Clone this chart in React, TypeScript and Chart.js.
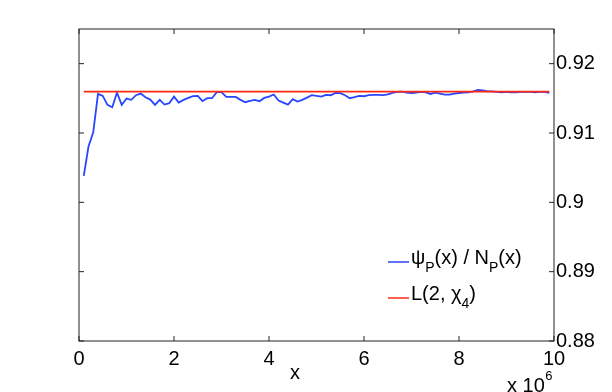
import React, { useEffect, useRef } from "react";
import { Chart, registerables } from "chart.js";

Chart.register(...registerables);

// x in units of 10^6
const X_MILLIONS = [
  0.1, 0.2, 0.3, 0.4, 0.5, 0.6, 0.7, 0.8, 0.9, 1.0,
  1.1, 1.2, 1.3, 1.4, 1.5, 1.6, 1.7, 1.8, 1.9, 2.0,
  2.1, 2.2, 2.3, 2.4, 2.5, 2.6, 2.7, 2.8, 2.9, 3.0,
  3.1, 3.2, 3.3, 3.4, 3.5, 3.6, 3.7, 3.8, 3.9, 4.0,
  4.1, 4.2, 4.3, 4.4, 4.5, 4.6, 4.7, 4.8, 4.9, 5.0,
  5.1, 5.2, 5.3, 5.4, 5.5, 5.6, 5.7, 5.8, 5.9, 6.0,
  6.1, 6.2, 6.3, 6.4, 6.5, 6.6, 6.7, 6.8, 6.9, 7.0,
  7.1, 7.2, 7.3, 7.4, 7.5, 7.6, 7.7, 7.8, 7.9, 8.0,
  8.1, 8.2, 8.3, 8.4, 8.5, 8.6, 8.7, 8.8, 8.9, 9.0,
  9.1, 9.2, 9.3, 9.4, 9.5, 9.6, 9.7, 9.8, 9.9,
];

// psi_P(x) / N_P(x)
const PSI_RATIO = [
  0.90381, 0.90804, 0.91011, 0.91564, 0.91535, 0.91405, 0.91372, 0.91583, 0.91405, 0.91497,
  0.91478, 0.91545, 0.91569, 0.91516, 0.91482, 0.91405, 0.91478, 0.91410, 0.91430, 0.91525,
  0.91439, 0.91478, 0.91506, 0.91531, 0.91535, 0.91459, 0.91502, 0.91502, 0.91589, 0.91589,
  0.91521, 0.91521, 0.91520, 0.91478, 0.91444, 0.91463, 0.91478, 0.91459, 0.91506, 0.91525,
  0.91555, 0.91468, 0.91439, 0.91410, 0.91487, 0.91453, 0.91478, 0.91511, 0.91545, 0.91535,
  0.91525, 0.91550, 0.91545, 0.91579, 0.91574, 0.91545, 0.91502, 0.91516, 0.91535, 0.91530,
  0.91545, 0.91550, 0.91550, 0.91545, 0.91556, 0.91577, 0.91592, 0.91596, 0.91582, 0.91577,
  0.91582, 0.91592, 0.91587, 0.91563, 0.91582, 0.91568, 0.91553, 0.91553, 0.91568, 0.91577,
  0.91582, 0.91587, 0.91601, 0.91620, 0.91616, 0.91601, 0.91601, 0.91592, 0.91587, 0.91592,
  0.91587, 0.91587, 0.91592, 0.91592, 0.91592, 0.91587, 0.91592, 0.91592, 0.91577,
];

// L(2, chi_4)
const L2_CHI4 = 0.915966;
const L_X_RANGE = [0.1, 9.9];

const X_TICKS = [0, 2, 4, 6, 8, 10];
const Y_TICKS = [0.88, 0.89, 0.9, 0.91, 0.92];
const X_MIN = 0;
const X_MAX = 10;
const Y_MIN = 0.88;
const Y_MAX = 0.925;

const X_TITLE = "x";
const X_EXP_BASE = "x 10";
const X_EXP = "6";

const BLUE = "#2846ff";
const RED = "#ff2a10";
const FONT = '"Liberation Sans", Arial, Helvetica, sans-serif';

type Part = { t: string; sub?: boolean };
const LEGEND_ITEMS: { color: string; parts: Part[] }[] = [
  {
    color: BLUE,
    parts: [
      { t: "ψ" },
      { t: "P", sub: true },
      { t: "(x) / N" },
      { t: "P", sub: true },
      { t: "(x)" },
    ],
  },
  {
    color: RED,
    parts: [{ t: "L(2, χ" }, { t: "4", sub: true }, { t: ")" }],
  },
];

const decorPlugin = {
  id: "decor",
  afterDatasetsDraw(chart: any) {
    const { ctx, chartArea, scales } = chart;
    const { left, right, top, bottom } = chartArea;
    const xs = scales.x;
    const ys = scales.y;
    ctx.save();
    // frame
    ctx.strokeStyle = "#222";
    ctx.lineWidth = 1;
    ctx.strokeRect(left, top, right - left, bottom - top);
    // inward ticks
    const tl = 5;
    ctx.beginPath();
    for (const v of X_TICKS) {
      const px = xs.getPixelForValue(v);
      ctx.moveTo(px, bottom);
      ctx.lineTo(px, bottom - tl);
      ctx.moveTo(px, top);
      ctx.lineTo(px, top + tl);
    }
    for (const v of Y_TICKS) {
      const py = ys.getPixelForValue(v);
      ctx.moveTo(left, py);
      ctx.lineTo(left + tl, py);
      ctx.moveTo(right, py);
      ctx.lineTo(right - tl, py);
    }
    ctx.stroke();

    // legend
    const legX = 388;
    const sampleLen = 21;
    const rowBase = [264, 300];
    LEGEND_ITEMS.forEach((item, i) => {
      const base = rowBase[i];
      ctx.strokeStyle = item.color;
      ctx.lineWidth = 1.5;
      ctx.beginPath();
      ctx.moveTo(legX, base - 2);
      ctx.lineTo(legX + sampleLen, base - 2);
      ctx.stroke();
      let cx = legX + sampleLen + 2;
      ctx.fillStyle = "#000";
      ctx.textAlign = "left";
      ctx.textBaseline = "alphabetic";
      for (const p of item.parts) {
        if (p.sub) {
          ctx.font = `14px ${FONT}`;
          ctx.fillText(p.t, cx, base + 7.5);
        } else {
          ctx.font = `20px ${FONT}`;
          ctx.fillText(p.t, cx, base);
        }
        cx += ctx.measureText(p.t).width;
      }
    });

    // x title
    ctx.fillStyle = "#000";
    ctx.font = `20px ${FONT}`;
    ctx.textAlign = "center";
    ctx.textBaseline = "alphabetic";
    ctx.fillText(X_TITLE, 295, 378.5);

    // exponent
    ctx.textAlign = "left";
    ctx.fillText(X_EXP_BASE, 507, 391.5);
    const w = ctx.measureText(X_EXP_BASE).width;
    ctx.font = `13px ${FONT}`;
    ctx.fillText(X_EXP, 507 + w + 0.5, 380);
    ctx.restore();
  },
};

export default function App() {
  const ref = useRef<HTMLCanvasElement | null>(null);
  useEffect(() => {
    if (!ref.current) return;
    const chart = new Chart(ref.current, {
      type: "line",
      data: {
        datasets: [
          {
            label: "psi",
            data: X_MILLIONS.map((x, i) => ({ x, y: PSI_RATIO[i] })),
            borderColor: BLUE,
            borderWidth: 1.8,
            pointRadius: 0,
            tension: 0,
            order: 1,
          },
          {
            label: "L",
            data: L_X_RANGE.map((x) => ({ x, y: L2_CHI4 })),
            borderColor: RED,
            borderWidth: 1.6,
            pointRadius: 0,
            order: 0,
          },
        ],
      },
      options: {
        animation: false,
        responsive: false,
        devicePixelRatio: 1,
        layout: { padding: { left: 79, top: 29, right: 0, bottom: 0 } },
        plugins: {
          legend: { display: false },
          tooltip: { enabled: false },
        },
        scales: {
          x: {
            type: "linear",
            position: "bottom",
            min: X_MIN,
            max: X_MAX,
            grid: { display: false, drawTicks: false },
            border: { display: false },
            afterBuildTicks: (s: any) => {
              s.ticks = X_TICKS.map((v) => ({ value: v }));
            },
            afterFit: (s: any) => {
              s.height = 51;
            },
            ticks: {
              color: "#000",
              padding: 6,
              maxRotation: 0,
              autoSkip: false,
              font: { family: FONT, size: 20 },
              callback: (v: any) => String(v),
            },
          },
          y: {
            type: "linear",
            position: "right",
            min: Y_MIN,
            max: Y_MAX,
            grid: { display: false, drawTicks: false },
            border: { display: false },
            afterBuildTicks: (s: any) => {
              s.ticks = Y_TICKS.map((v) => ({ value: v }));
            },
            afterFit: (s: any) => {
              s.width = 58;
            },
            ticks: {
              color: "#000",
              padding: 2,
              autoSkip: false,
              font: { family: FONT, size: 20 },
              callback: (v: any) => String(Math.round(Number(v) * 100) / 100),
            },
          },
        },
      },
      plugins: [decorPlugin],
    });
    return () => chart.destroy();
  }, []);

  return (
    <div style={{ position: "absolute", left: 0, top: 0, width: 612, height: 392, background: "#fff" }}>
      <canvas ref={ref} width={612} height={392} style={{ display: "block" }} />
    </div>
  );
}
